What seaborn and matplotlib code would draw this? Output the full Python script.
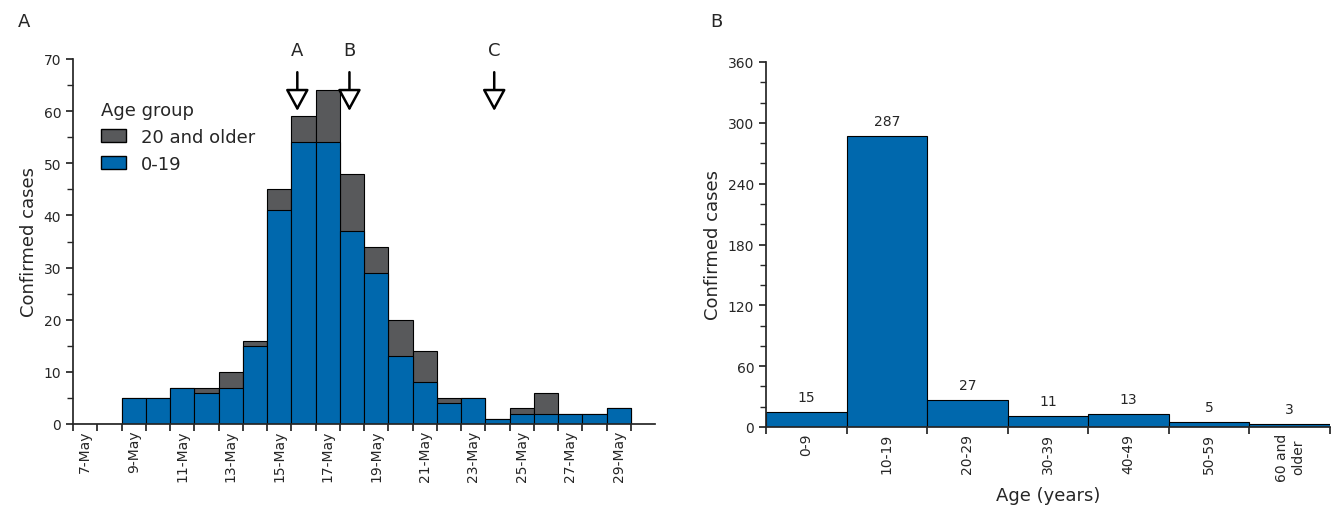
import numpy as np
import pandas as pd
import matplotlib
matplotlib.use("Agg")
import matplotlib.pyplot as plt
import seaborn as sns
from matplotlib.patches import Patch
from matplotlib.ticker import MultipleLocator

# ── data ──
dates = ["7-May", "8-May", "9-May", "10-May", "11-May", "12-May", "13-May", "14-May",
         "15-May", "16-May", "17-May", "18-May", "19-May", "20-May", "21-May", "22-May",
         "23-May", "24-May", "25-May", "26-May", "27-May", "28-May", "29-May"]
young = [0, 0, 5, 5, 7, 6, 7, 15, 41, 54, 54, 37, 29, 13, 8, 4, 5, 1, 2, 2, 2, 2, 3]
older = [0, 0, 0, 0, 0, 1, 3, 1, 4, 5, 10, 11, 5, 7, 6, 1, 0, 0, 1, 4, 0, 0, 0]
arrow_labels = ["A", "B", "C"]
arrow_pos = [8.75, 10.9, 16.87]

age_groups = ["0-9", "10-19", "20-29", "30-39", "40-49", "50-59", "60 and\nolder"]
age_cases = [15, 287, 27, 11, 13, 5, 3]

BLUE = "#0068ad"
GREY = "#58595b"

sns.set_theme(style="ticks")
plt.rcParams["font.family"] = ["Liberation Sans Narrow", "DejaVu Sans"]

fig = plt.figure(figsize=(13.35, 5.1), dpi=100)
axA = fig.add_axes([73 / 1335, 1 - 425 / 510, (655 - 73) / 1335, (425 - 60) / 510])
axB = fig.add_axes([766 / 1335, 1 - 428 / 510, (1330 - 766) / 1335, (428 - 63) / 510])

# ── panel A ──
dfA = pd.DataFrame({"date": dates, "young": young,
                    "total": np.array(young) + np.array(older)})
sns.barplot(data=dfA, x="date", y="total", color=GREY, width=1, saturation=1,
            edgecolor="black", linewidth=0.8, ax=axA)
sns.barplot(data=dfA, x="date", y="young", color=BLUE, width=1, saturation=1,
            edgecolor="black", linewidth=0.8, ax=axA)
axA.set_xlim(-0.5, len(dates) + 0.5)
axA.set_ylim(0, 70)
axA.yaxis.set_major_locator(MultipleLocator(10))
axA.yaxis.set_minor_locator(MultipleLocator(5))
axA.set_xticks(np.arange(len(dates) + 1) - 0.5, minor=False)
axA.set_xticklabels([])
axA.set_xticks(np.arange(0, len(dates), 2), minor=True)
axA.set_xticklabels(dates[::2], minor=True, rotation=90, fontsize=10)
axA.tick_params(axis="x", which="minor", length=0, pad=4)
axA.tick_params(axis="both", which="major", length=5)
axA.tick_params(axis="y", labelsize=10)
axA.set_xlabel("")
axA.set_ylabel("Confirmed cases", fontsize=13)
sns.despine(ax=axA)
for lab, xp in zip(arrow_labels, arrow_pos):
    axA.annotate("", xy=(xp, 59.5), xytext=(xp, 68), annotation_clip=False,
                 arrowprops=dict(arrowstyle="-|>,head_width=0.6,head_length=1.1",
                                 fc="white", ec="black", lw=1.8))
    axA.text(xp, 70, lab, ha="center", va="bottom", fontsize=13, clip_on=False)
handles = [Patch(facecolor=GREY, edgecolor="black", label="20 and older"),
           Patch(facecolor=BLUE, edgecolor="black", label="0-19")]
axA.legend(handles=handles, title="Age group", frameon=False, loc="upper left",
           bbox_to_anchor=(0.02, 0.93), fontsize=13, title_fontsize=13,
           alignment="left", handlelength=1.4)

# ── panel B ──
dfB = pd.DataFrame({"age": age_groups, "cases": age_cases})
sns.barplot(data=dfB, x="age", y="cases", color=BLUE, width=1, saturation=1,
            edgecolor="black", linewidth=0.8, ax=axB)
for i, v in enumerate(age_cases):
    axB.text(i, v + 8, str(v), ha="center", va="bottom", fontsize=10)
axB.set_xlim(-0.5, len(age_groups) - 0.5)
axB.set_ylim(0, 360)
axB.yaxis.set_major_locator(MultipleLocator(60))
axB.yaxis.set_minor_locator(MultipleLocator(20))
axB.set_xticks(np.arange(len(age_groups) + 1) - 0.5)
axB.set_xticklabels([])
axB.set_xticks(np.arange(len(age_groups)), minor=True)
axB.set_xticklabels(age_groups, minor=True, rotation=90, fontsize=10, va="top")
axB.tick_params(axis="x", which="minor", length=0, pad=4)
axB.tick_params(axis="both", which="major", length=5)
axB.tick_params(axis="y", labelsize=10)
axB.set_xlabel("Age (years)", fontsize=13)
axB.set_ylabel("Confirmed cases", fontsize=13)
sns.despine(ax=axB)

fig.text(18 / 1335, 1 - 22 / 510, "A", fontsize=13, va="center")
fig.text(710 / 1335, 1 - 22 / 510, "B", fontsize=13, va="center")

fig.savefig("out.png", dpi=100)
